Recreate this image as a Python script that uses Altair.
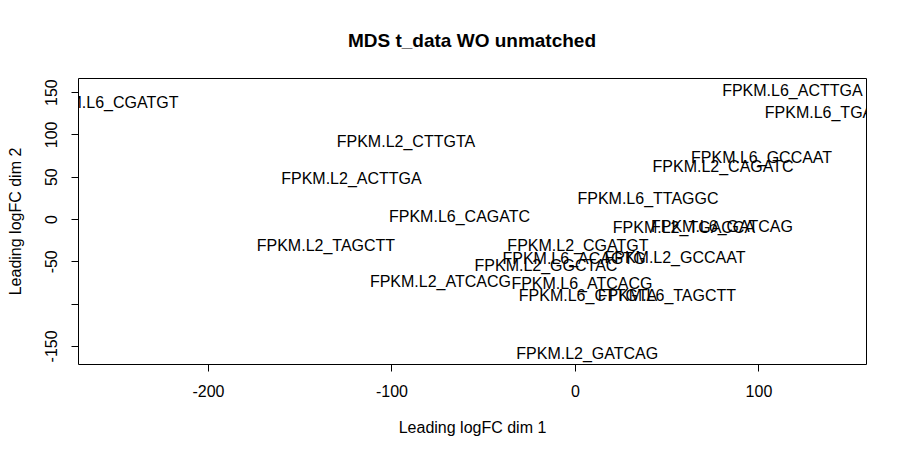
import altair as alt
import pandas as pd

# sample labels and their MDS coordinates
samples = [
    "FPKM.L6_CGATGT", "FPKM.L2_CTTGTA", "FPKM.L2_ACTTGA", "FPKM.L6_CAGATC",
    "FPKM.L2_TAGCTT", "FPKM.L2_ATCACG", "FPKM.L6_ATCACG", "FPKM.L6_CTTGTA",
    "FPKM.L6_TAGCTT", "FPKM.L2_GATCAG", "FPKM.L2_CGATGT", "FPKM.L6_ACAGTG",
    "FPKM.L2_GGCTAC", "FPKM.L2_GCCAAT", "FPKM.L2_TGACCA", "FPKM.L6_GATCAG",
    "FPKM.L6_TTAGGC", "FPKM.L2_CAGATC", "FPKM.L6_GCCAAT", "FPKM.L6_ACTTGA",
    "FPKM.L6_TGACCA",
]
dim1 = [
    -254.5, -92.1, -121.8, -62.9,
    -135.7, -73.3, 3.8, 7.1,
    50.1, 6.7, 1.6, -0.5,
    -15.8, 54.5, 59.4, 80.1,
    39.8, 80.7, 101.7, 118.5,
    142.2,
]
dim2 = [
    137.5, 91.0, 47.5, 2.5,
    -31.7, -74.3, -76.3, -90.8,
    -90.8, -159.0, -31.7, -47.5,
    -55.4, -45.5, -10.5, -9.3,
    23.5, 61.6, 71.9, 151.5,
    125.8,
]

x_ticks = [-200, -100, 0, 100]
y_ticks = [-150, -100, -50, 0, 50, 100, 150]

df = pd.DataFrame({"sample": samples, "dim1": dim1, "dim2": dim2})

FONT = "Liberation Sans"
minus_expr = "datum.value < 0 ? '-' + abs(datum.value) : '' + datum.value"

chart = (
    alt.Chart(df)
    .mark_text(clip=True, font=FONT, fontSize=16, color="black",
               align="center", baseline="middle")
    .encode(
        x=alt.X(
            "dim1:Q",
            title="Leading logFC dim 1",
            scale=alt.Scale(domain=[-270.8, 158.6], nice=False, zero=False),
            axis=alt.Axis(values=x_ticks, labelExpr=minus_expr, labelPadding=12,
                          titlePadding=20),
        ),
        y=alt.Y(
            "dim2:Q",
            title="Leading logFC dim 2",
            scale=alt.Scale(domain=[-171.4, 166.7], nice=False, zero=False),
            axis=alt.Axis(
                values=y_ticks,
                labelExpr="datum.value == -100 ? '' : (" + minus_expr + ")",
                labelAngle=-90,
                labelAlign="center",
                labelBaseline="bottom",
                labelPadding=12,
                titlePadding=20,
            ),
        ),
        text="sample:N",
    )
    .properties(
        width=788,
        height=286,
        title=alt.Title("MDS t_data WO unmatched", fontSize=19, fontWeight="bold",
                        font=FONT, anchor="middle", offset=27, color="black"),
        autosize=alt.AutoSizeParams(type="none"),
        padding={"left": 70, "top": 70, "right": 32, "bottom": 90},
    )
    .configure_view(stroke="black", strokeWidth=1)
    .configure_axis(
        grid=False,
        domain=False,
        tickColor="black",
        tickSize=7,
        labelFont=FONT,
        labelFontSize=16,
        labelColor="black",
        titleFont=FONT,
        titleFontSize=16,
        titleFontWeight="normal",
        titleColor="black",
    )
)

chart.save("out.html", embed_options={"renderer": "svg", "actions": False})
